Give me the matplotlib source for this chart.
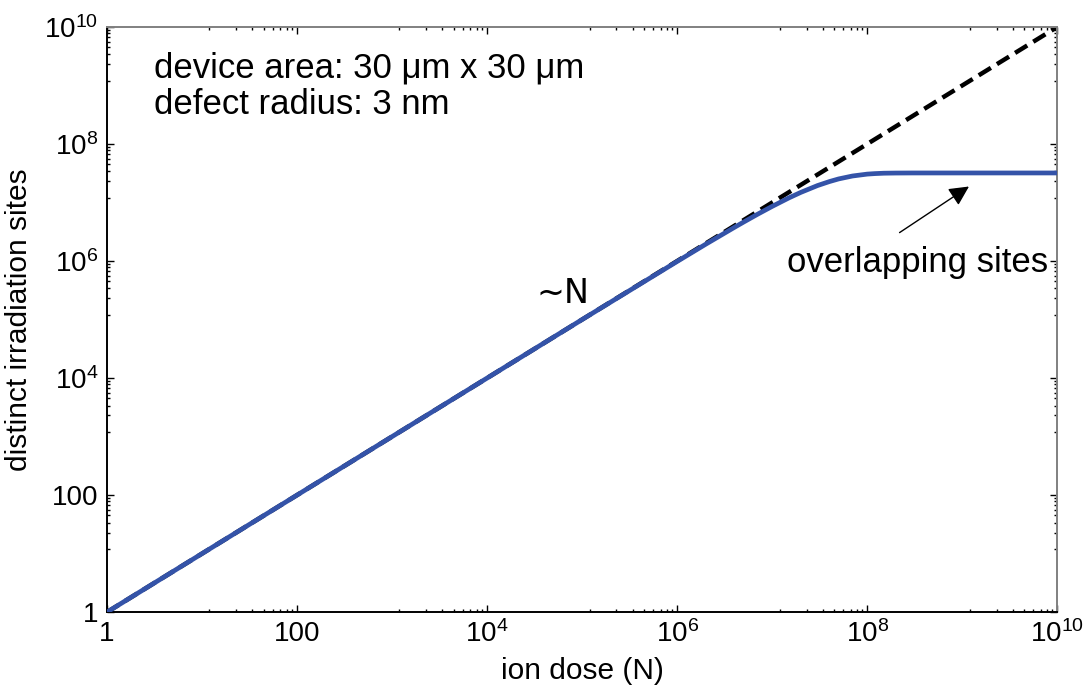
import numpy as np
import matplotlib.pyplot as plt
from matplotlib.ticker import FixedLocator, FixedFormatter

plt.rcParams['font.family'] = ['Liberation Sans', 'DejaVu Sans']
plt.rcParams['mathtext.fontset'] = 'custom'
plt.rcParams['mathtext.rm'] = 'Liberation Sans'
plt.rcParams['mathtext.it'] = 'Liberation Sans:italic'

# values
dose = [1, 1e2, 1e4, 1e5, 1e6, 2e6, 4e6, 5e6, 7e6, 1e7, 1.5e7, 2e7, 3e7,
        4e7, 5e7, 7e7, 1e8, 1.2e8, 1.5e8, 2e8, 3e8, 1e9, 1e10]
sites = [1, 1e2, 1e4, 1e5, 0.984e6, 1.94e6, 3.76e6, 4.63e6, 6.29e6, 8.59e6,
         1.20e7, 1.49e7, 1.95e7, 2.28e7, 2.53e7, 2.84e7, 3.06e7, 3.12e7,
         3.17e7, 3.19e7, 3.2e7, 3.2e7, 3.2e7]
ref_x = [1, 1e10]
ref_y = [1, 1e10]

major = [1, 1e2, 1e4, 1e6, 1e8, 1e10]
major_labels = ['1', '100', r'$10^4$', r'$10^6$', r'$10^8$', r'$10^{10}$']

# matlab-like minor ticks: 8 linear steps between majors
minor = []
for lo, hi in zip(major[:-1], major[1:]):
    minor += [lo + k * (hi - lo) / 9 for k in range(1, 9)]

fig = plt.figure(figsize=(10.9, 6.91), dpi=100)
ax = fig.add_axes([0.098, 0.114, 0.872, 0.847])

ax.plot(ref_x, ref_y, color='black', lw=3.2, ls=(0, (3.2, 1.6)), zorder=2)
ax.plot(dose, sites, color='#3453a8', lw=3.4, zorder=3)

ax.set_xscale('log')
ax.set_yscale('log')
ax.set_xlim(1, 1e10)
ax.set_ylim(1, 1e10)

for axis in (ax.xaxis, ax.yaxis):
    axis.set_major_locator(FixedLocator(major))
    axis.set_major_formatter(FixedFormatter(major_labels))
    axis.set_minor_locator(FixedLocator(minor))
    axis.set_minor_formatter(FixedFormatter([]))

ax.tick_params(which='both', direction='in', top=True, right=True,
               labelsize=20, width=1)
ax.tick_params(which='major', length=5, pad=6)
ax.tick_params(which='minor', length=2.5)

for s in ('left', 'bottom'):
    ax.spines[s].set_linewidth(1.4)
    ax.spines[s].set_color('black')
for s in ('top', 'right'):
    ax.spines[s].set_linewidth(1.4)
    ax.spines[s].set_color('#808080')

ax.set_xlabel('ion dose (N)', fontsize=21.5, labelpad=6)
ax.set_ylabel('distinct irradiation sites', fontsize=21.5, labelpad=8)

ax.text(0.05, 0.93, 'device area: 30 μm x 30 μm', transform=ax.transAxes,
        fontsize=25, va='center')
ax.text(0.05, 0.867, 'defect radius: 3 nm', transform=ax.transAxes,
        fontsize=25, va='center')
ax.text(10**4.8, 10**5.45, '∼N', fontsize=24, ha='center', va='center',
        family=['DejaVu Sans', 'Liberation Sans'])

ax.annotate('', xy=(10**9.095, 10**7.30), xytext=(10**8.316, 10**6.46),
            arrowprops=dict(arrowstyle='-|>', color='black', lw=1,
                            mutation_scale=30))
ax.text(10**8.53, 10**5.98, 'overlapping sites', fontsize=25,
        ha='center', va='center')

fig.savefig('out.png', dpi=100)
